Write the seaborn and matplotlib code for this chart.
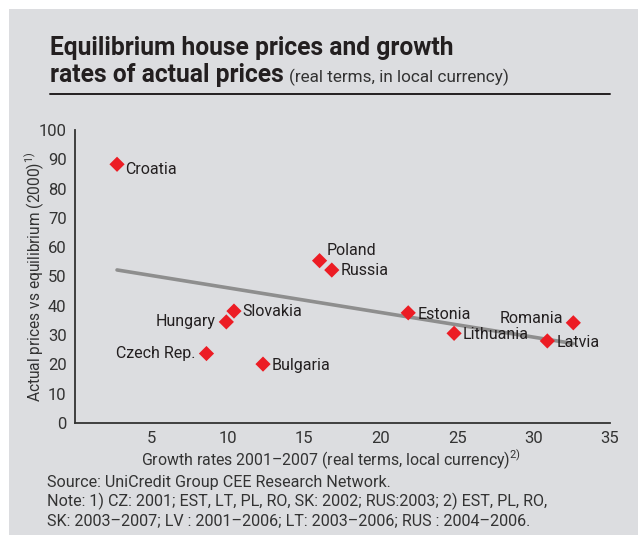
import matplotlib
matplotlib.use("Agg")
import matplotlib.pyplot as plt
from matplotlib.patches import Rectangle
from matplotlib.lines import Line2D
import seaborn as sns
import pandas as pd

# values
countries = ["Croatia", "Poland", "Russia", "Slovakia", "Hungary", "Czech Rep.",
             "Bulgaria", "Estonia", "Lithuania", "Latvia", "Romania"]
growth = [2.75, 16.0, 16.8, 10.4, 9.9, 8.6, 12.3, 21.8, 24.8, 30.9, 32.6]
price_gap = [88.3, 55.4, 52.2, 38.2, 34.5, 23.7, 20.1, 37.6, 30.6, 28.0, 34.2]
x_ticks = [5, 10, 15, 20, 25, 30, 35]
y_ticks = [0, 10, 20, 30, 40, 50, 60, 70, 80, 90, 100]

df = pd.DataFrame({"country": countries, "growth": growth, "gap": price_gap})

# where each country label sits relative to its marker (points, alignment)
label_pos = {
    "Croatia": (6, -4, "left"), "Poland": (5, 7, "left"), "Russia": (6, 0, "left"),
    "Slovakia": (6, 0, "left"), "Hungary": (-8, 0, "right"),
    "Czech Rep.": (-8, 0, "right"), "Bulgaria": (6, -1, "left"),
    "Estonia": (7, -1, "left"), "Lithuania": (6, -1, "left"),
    "Latvia": (7, -1, "left"), "Romania": (-7, 3, "right"),
}

sns.set_style("white")
plt.rcParams["font.family"] = ["Roboto", "DejaVu Sans"]
plt.rcParams["mathtext.fontset"] = "custom"
plt.rcParams["mathtext.rm"] = "Roboto"

bg = "#dcdde0"
ink = "#231f20"
grey_txt = "#333333"
W, H = 638, 536

fig = plt.figure(figsize=(W / 100, H / 100), dpi=100, facecolor="white")
fig.patches.append(Rectangle((9 / W, 1 / H), 1, 1 - 10 / H, transform=fig.transFigure,
                             facecolor=bg, edgecolor="none", zorder=-5))


def fit(t, size_px, vertical=False):
    # scale a text so it spans about the same length as in the reference
    fig.canvas.draw()
    bb = t.get_window_extent()
    cur = bb.height if vertical else bb.width
    t.set_fontsize(t.get_fontsize() * size_px / cur)


ax = fig.add_axes([75 / W, 1 - 423 / H, 535 / W, 293 / H])
ax.set_facecolor("none")

sns.regplot(data=df, x="growth", y="gap", scatter=False, ci=None, ax=ax,
            color="#8e8e8e", line_kws={"lw": 2.6, "solid_capstyle": "round", "zorder": 2})
sns.scatterplot(data=df, x="growth", y="gap", marker="D", s=60, color="#ec1c24",
                edgecolor="none", ax=ax, zorder=3)

for name, gx, gy in zip(countries, growth, price_gap):
    dx, dy, ha = label_pos[name]
    ax.annotate(name, (gx, gy), xytext=(dx, dy), textcoords="offset points",
                ha=ha, va="center", fontsize=11.5, color=ink, zorder=4)

ax.set_xlim(0, 35)
ax.set_ylim(0, 100)
ax.set_xticks(x_ticks)
ax.set_yticks(y_ticks)
ax.tick_params(length=0, labelsize=12, colors=grey_txt, pad=6)
for side in ["top", "right"]:
    ax.spines[side].set_visible(False)
for side in ["left", "bottom"]:
    ax.spines[side].set_color(grey_txt)
    ax.spines[side].set_linewidth(1.3)
ax.set_xlabel("")
ax.set_ylabel("")

ylab = fig.text(34 / W, 1 - 277 / H, r"Actual prices vs equilibrium (2000)$^{1)}$",
                rotation=90, ha="center", va="center", fontsize=12, color=grey_txt)
fit(ylab, 250, vertical=True)
xlab = fig.text(331 / W, 1 - 459 / H,
                r"Growth rates 2001–2007 (real terms, local currency)$^{2)}$",
                ha="center", va="center", fontsize=12, color=grey_txt)
fit(xlab, 380)

# title block
t1 = fig.text(50 / W, 1 - 55 / H, "Equilibrium house prices and growth", fontsize=17,
              weight="bold", color=ink, va="baseline")
fit(t1, 405)
t2 = fig.text(50 / W, 1 - 82 / H, "rates of actual prices", fontsize=t1.get_fontsize(),
              weight="bold", color=ink, va="baseline")
fig.canvas.draw()
x_sub = t2.get_window_extent().x1 + 5
t3 = fig.text(x_sub / W, 1 - 82 / H, "(real terms, in local currency)", fontsize=13,
              color=grey_txt, va="baseline")
fit(t3, 510 - x_sub)
fig.add_artist(Line2D([50 / W, 610 / W], [1 - 94 / H, 1 - 94 / H], color=ink, lw=1.4))

notes = [
    "Source: UniCredit Group CEE Research Network.",
    "Note: 1) CZ: 2001; EST, LT, PL, RO, SK: 2002; RUS:2003; 2) EST, PL, RO,",
    "SK: 2003–2007; LV : 2001–2006; LT: 2003–2006; RUS : 2004–2006.",
]
note_txt = []
for i, line in enumerate(notes):
    note_txt.append(fig.text(47 / W, 1 - (482 + 19.5 * i) / H, line, fontsize=12,
                             color=grey_txt, va="center"))
fit(note_txt[1], 500)
for t in note_txt:
    t.set_fontsize(note_txt[1].get_fontsize())

fig.savefig("out.png", dpi=100, facecolor="white")
